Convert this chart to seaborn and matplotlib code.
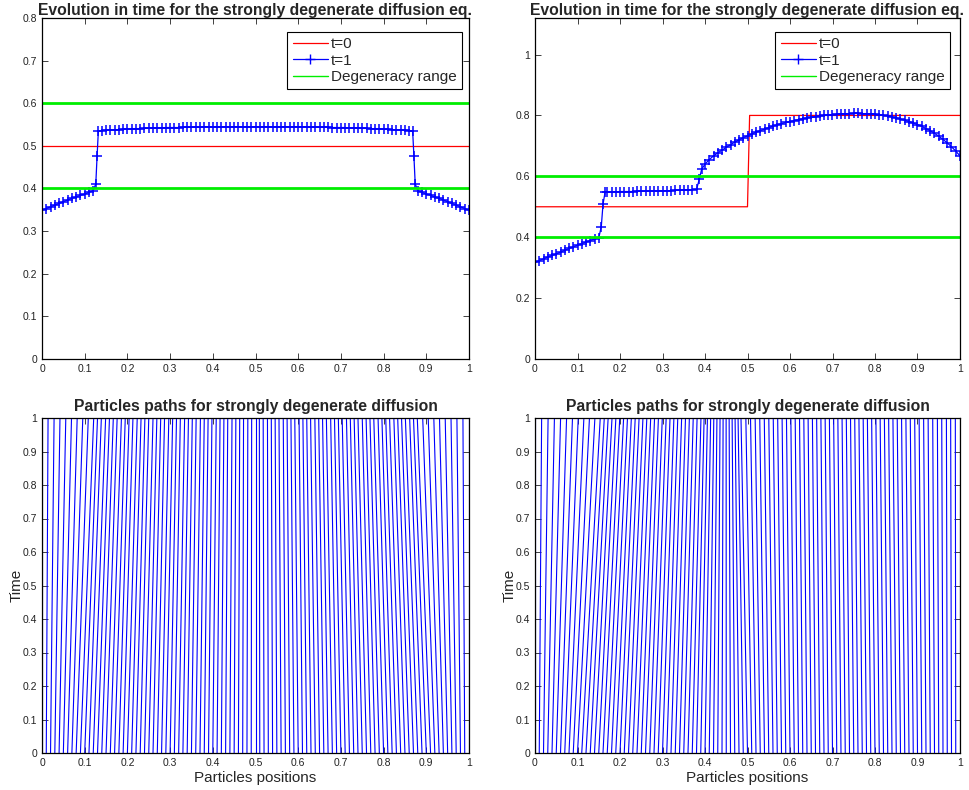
import numpy as np
import pandas as pd
import matplotlib
matplotlib.use('Agg')
import matplotlib.pyplot as plt
from matplotlib.lines import Line2D
from matplotlib.ticker import FuncFormatter, MultipleLocator
import seaborn as sns

# ---------------- data ----------------
degeneracy = [0.4, 0.6]

# case 1: constant initial density
init1_x = [0.0, 1.0]
init1_y = [0.5, 0.5]
dens1_x = [0.00, 0.01, 0.02, 0.03, 0.04, 0.05, 0.06, 0.07, 0.08, 0.09, 0.10, 0.11, 0.12,
           0.126, 0.129, 0.132,
           0.14, 0.15, 0.16, 0.17, 0.18, 0.19, 0.20, 0.21, 0.22, 0.23, 0.24, 0.25, 0.26, 0.27,
           0.28, 0.29, 0.30, 0.31, 0.32, 0.33, 0.34, 0.35, 0.36, 0.37, 0.38, 0.39, 0.40,
           0.41, 0.42, 0.43, 0.44, 0.45, 0.46, 0.47, 0.48, 0.49, 0.50, 0.51, 0.52, 0.53, 0.54,
           0.55, 0.56, 0.57, 0.58, 0.59,
           0.60, 0.61, 0.62, 0.63, 0.64, 0.65, 0.66, 0.67, 0.68, 0.69, 0.70, 0.71, 0.72, 0.73,
           0.74, 0.75, 0.76, 0.77, 0.78, 0.79, 0.80, 0.81, 0.82, 0.83, 0.84, 0.85, 0.86,
           0.868, 0.871, 0.874,
           0.88, 0.89, 0.90, 0.91, 0.92, 0.93, 0.94, 0.95, 0.96, 0.97, 0.98, 0.99, 1.00]
dens1_y = [0.349, 0.353, 0.357, 0.361, 0.365, 0.369, 0.373, 0.377, 0.380, 0.384, 0.387, 0.391, 0.395,
           0.411, 0.476, 0.535,
           0.536, 0.537, 0.537, 0.538, 0.538, 0.539, 0.539, 0.540, 0.540, 0.540, 0.541, 0.541, 0.542, 0.542,
           0.542, 0.543, 0.543, 0.543, 0.543, 0.544, 0.544, 0.544, 0.544, 0.544, 0.545, 0.545, 0.545,
           0.545, 0.545, 0.545, 0.545, 0.545, 0.545, 0.545, 0.545, 0.545, 0.545, 0.545, 0.545, 0.545, 0.545,
           0.545, 0.545, 0.545, 0.545, 0.545,
           0.545, 0.545, 0.545, 0.544, 0.544, 0.544, 0.544, 0.544, 0.543, 0.543, 0.543, 0.543, 0.542, 0.542,
           0.542, 0.541, 0.541, 0.540, 0.540, 0.540, 0.539, 0.539, 0.538, 0.538, 0.537, 0.537, 0.536,
           0.535, 0.476, 0.411,
           0.395, 0.391, 0.387, 0.384, 0.380, 0.377, 0.373, 0.369, 0.365, 0.361, 0.357, 0.353, 0.349]

# case 2: step initial density
init2_x = [0.0, 0.5, 0.505, 1.0]
init2_y = [0.5, 0.5, 0.8, 0.8]
dens2_x = [0.00, 0.01, 0.02, 0.03, 0.04, 0.05, 0.06, 0.07, 0.08, 0.09, 0.10, 0.11, 0.12, 0.13, 0.14, 0.15,
           0.156, 0.160, 0.165,
           0.17, 0.18, 0.19, 0.20, 0.21, 0.22, 0.23, 0.24, 0.25, 0.26, 0.27, 0.28, 0.29, 0.30, 0.31,
           0.32, 0.33, 0.34, 0.35, 0.36, 0.37, 0.38,
           0.387, 0.392,
           0.40, 0.41, 0.42, 0.43, 0.44, 0.45, 0.46, 0.47, 0.48, 0.49, 0.50, 0.51, 0.52, 0.53, 0.54,
           0.55, 0.56, 0.57, 0.58, 0.59, 0.60, 0.61, 0.62, 0.63, 0.64, 0.65, 0.66, 0.67, 0.68, 0.69,
           0.70, 0.71, 0.72, 0.73, 0.74, 0.75, 0.76, 0.77, 0.78, 0.79, 0.80, 0.81, 0.82, 0.83, 0.84,
           0.85, 0.86, 0.87, 0.88, 0.89, 0.90, 0.91, 0.92, 0.93, 0.94, 0.95, 0.96, 0.97, 0.98, 0.99, 1.00]
dens2_y = [0.317, 0.323, 0.329, 0.335, 0.340, 0.345, 0.351, 0.357, 0.363, 0.368, 0.374, 0.379, 0.384, 0.389, 0.394, 0.398,
           0.435, 0.508, 0.549,
           0.549, 0.549, 0.549, 0.550, 0.550, 0.550, 0.550, 0.551, 0.551, 0.551, 0.552, 0.552, 0.552, 0.553, 0.553,
           0.553, 0.554, 0.554, 0.555, 0.555, 0.556, 0.557,
           0.592, 0.623,
           0.640, 0.655, 0.667, 0.677, 0.686, 0.695, 0.704, 0.712, 0.720, 0.727, 0.733, 0.739, 0.745, 0.750, 0.755,
           0.760, 0.765, 0.769, 0.773, 0.777, 0.780, 0.783, 0.786, 0.789, 0.792, 0.794, 0.796, 0.798, 0.800, 0.802,
           0.803, 0.804, 0.805, 0.806, 0.806, 0.807, 0.807, 0.806, 0.806, 0.805, 0.804, 0.802, 0.800, 0.798, 0.795,
           0.792, 0.788, 0.784, 0.780, 0.775, 0.770, 0.764, 0.757, 0.750, 0.741, 0.732, 0.721, 0.710, 0.697, 0.683, 0.667]

start_pos = np.linspace(0, 1, 101)
end_pos1 = [0.0000, 0.0142, 0.0283, 0.0421, 0.0557, 0.0691, 0.0824, 0.0955, 0.1084, 0.1211,
            0.130, 0.139, 0.149, 0.158, 0.167, 0.176, 0.186, 0.195, 0.204, 0.213, 0.223, 0.232, 0.241,
            0.250, 0.260, 0.269, 0.278, 0.287, 0.297, 0.306, 0.315, 0.324, 0.334, 0.343, 0.352, 0.361,
            0.371, 0.380, 0.389, 0.398, 0.408, 0.417, 0.426, 0.435, 0.445, 0.454, 0.463, 0.472, 0.482,
            0.491, 0.500,
            0.509, 0.518, 0.528, 0.537, 0.546, 0.555, 0.565, 0.574, 0.583, 0.592, 0.602, 0.611, 0.620,
            0.629, 0.639, 0.648, 0.657, 0.666, 0.676, 0.685, 0.694, 0.703, 0.713, 0.722, 0.731, 0.740,
            0.750, 0.759, 0.768, 0.777, 0.787, 0.796, 0.805, 0.814, 0.824, 0.833, 0.842, 0.851, 0.861, 0.870,
            0.8789, 0.8916, 0.9045, 0.9176, 0.9309, 0.9443, 0.9579, 0.9717, 0.9858, 1.0000]
end_pos2 = [0.0000, 0.0156, 0.0308, 0.0457, 0.0602, 0.0743, 0.0882, 0.1017, 0.1150, 0.1281, 0.1409, 0.1535, 0.1630,
            0.1721, 0.1812, 0.1903, 0.1994, 0.2085, 0.2176, 0.2267, 0.2358, 0.2449, 0.2540, 0.2631, 0.2722,
            0.2813, 0.2904, 0.2995, 0.3086, 0.3177, 0.3268, 0.3359, 0.3450, 0.3541, 0.3632, 0.3723, 0.3814, 0.3905,
            0.3979, 0.4057, 0.4133, 0.4207, 0.4281, 0.4354, 0.4426, 0.4497, 0.4568, 0.4638, 0.4708, 0.4778, 0.4847,
            0.4961, 0.5071, 0.5180, 0.5288, 0.5395, 0.5501, 0.5606, 0.5710, 0.5814, 0.5917, 0.6020, 0.6122, 0.6224,
            0.6325, 0.6426, 0.6527, 0.6627, 0.6727, 0.6827, 0.6927, 0.7027, 0.7126, 0.7225, 0.7325, 0.7424, 0.7523,
            0.7622, 0.7722, 0.7821, 0.7921, 0.8021, 0.8121, 0.8221, 0.8321, 0.8422, 0.8523, 0.8625, 0.8727, 0.8830,
            0.8934, 0.9038, 0.9144, 0.9250, 0.9358, 0.9468, 0.957, 0.968, 0.978, 0.989, 1.000]

title_top = 'Evolution in time for the strongly degenerate diffusion eq.'
title_bot = 'Particles paths for strongly degenerate diffusion'

# ---------------- style ----------------
sns.set_theme(style='ticks')
plt.rcParams['font.family'] = ['Liberation Sans', 'DejaVu Sans']
plt.rcParams.update({
    'xtick.direction': 'in', 'ytick.direction': 'in',
    'xtick.top': True, 'ytick.right': True,
    'xtick.major.size': 4, 'ytick.major.size': 4,
    'xtick.major.width': 0.6, 'ytick.major.width': 0.6,
    'xtick.labelsize': 7.5, 'ytick.labelsize': 7.5,
    'axes.linewidth': 0.9, 'axes.edgecolor': 'black',
    'xtick.color': '#222222', 'ytick.color': '#222222',
})

W, H = 969, 790
fig = plt.figure(figsize=(W / 100, H / 100), dpi=100)


def px_axes(l, t, r, b):
    return fig.add_axes([l / W, 1 - b / H, (r - l) / W, (b - t) / H])


ax_tl = px_axes(42, 18, 469, 359)
ax_tr = px_axes(535, 18, 960, 359)
ax_bl = px_axes(42, 418, 469, 753)
ax_br = px_axes(535, 418, 960, 753)

fmt = FuncFormatter(lambda v, p: '%g' % round(v, 3))
green = '#00ee00'


def density_panel(ax, ix, iy, dx, dy, ytop, ystep, leg_inset):
    sns.lineplot(x=ix, y=iy, ax=ax, color='red', lw=0.9, sort=False, estimator=None)
    sns.lineplot(x=dx, y=dy, ax=ax, color='blue', lw=0.9, marker='+', markersize=7.5,
                 markeredgewidth=1.1, markeredgecolor='blue', sort=False, estimator=None)
    for g in degeneracy:
        sns.lineplot(x=[0, 1], y=[g, g], ax=ax, color=green, lw=2.0)
    ax.set_xlim(0, 1)
    ax.set_ylim(0, ytop)
    ax.xaxis.set_major_locator(MultipleLocator(0.1))
    ax.yaxis.set_major_locator(MultipleLocator(ystep))
    ax.xaxis.set_major_formatter(fmt)
    ax.yaxis.set_major_formatter(fmt)
    ax.set_title(title_top, fontsize=11.3, fontweight='bold', pad=1.5)
    handles = [Line2D([], [], color='red', lw=0.9),
               Line2D([], [], color='blue', lw=0.9, marker='+', markersize=7),
               Line2D([], [], color=green, lw=1.0)]
    leg = ax.legend(handles, ['t=0', 't=1', 'Degeneracy range'], loc='upper right',
                    bbox_to_anchor=leg_inset, borderaxespad=0, fontsize=11, fancybox=False,
                    framealpha=1, edgecolor='black', handlelength=2.3, handletextpad=0.2,
                    labelspacing=0.15, borderpad=0.35, numpoints=1)
    leg.get_frame().set_linewidth(0.8)


def paths_panel(ax, end_pos):
    n = len(start_pos)
    df = pd.DataFrame({
        'pos': np.concatenate([start_pos, end_pos]),
        'time': [0.0] * n + [1.0] * n,
        'particle': list(range(n)) * 2,
    })
    sns.lineplot(data=df, x='pos', y='time', units='particle', estimator=None, sort=False,
                 color='blue', lw=0.8, ax=ax, legend=False)
    ax.set_xlim(0, 1)
    ax.set_ylim(0, 1)
    ax.xaxis.set_major_locator(MultipleLocator(0.1))
    ax.yaxis.set_major_locator(MultipleLocator(0.1))
    ax.xaxis.set_major_formatter(fmt)
    ax.yaxis.set_major_formatter(fmt)
    ax.set_title(title_bot, fontsize=11.3, fontweight='bold', pad=5)
    ax.set_xlabel('Particles positions', fontsize=11, labelpad=2)
    ax.set_ylabel('Time', fontsize=11, labelpad=-1)


density_panel(ax_tl, init1_x, init1_y, dens1_x, dens1_y, 0.8, 0.1, (1 - 7 / 427, 1 - 14 / 341))
density_panel(ax_tr, init2_x, init2_y, dens2_x, dens2_y, 1.12, 0.2, (1 - 10 / 425, 1 - 14 / 341))
paths_panel(ax_bl, end_pos1)
paths_panel(ax_br, end_pos2)

for ax in (ax_tl, ax_tr):
    ax.set_xlabel('')
    ax.set_ylabel('')

fig.savefig('out.png', dpi=100)
